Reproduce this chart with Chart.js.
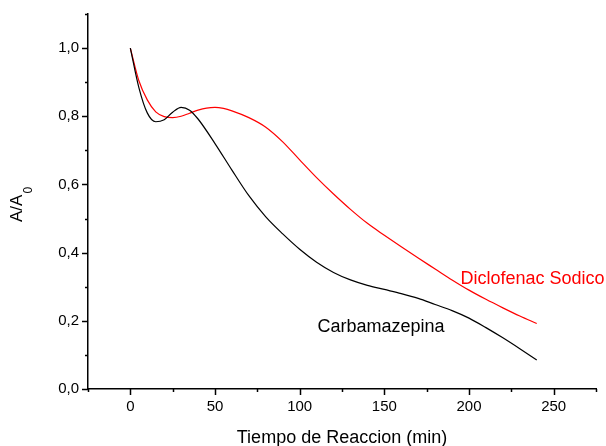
<!DOCTYPE html>
<html>
<head>
<meta charset="utf-8">
<script src="https://cdn.jsdelivr.net/npm/chart.js@4.4.1/dist/chart.umd.min.js"></script>
<style>
  html, body { margin: 0; padding: 0; background: #fff; }
  #wrap { width: 606px; height: 446px; }
</style>
</head>
<body>
<div id="wrap"><canvas id="c" width="606" height="446"></canvas></div>
<script>
// ---- Data ----
const carbTime = [0, 5, 10, 15, 20, 25, 30, 35, 40, 50, 60, 70, 80, 90, 100, 110, 120, 130, 140, 150, 160, 170, 180, 190, 200, 210, 220, 230, 240];
const carbValues = [1.0, 0.885, 0.81, 0.784, 0.79, 0.812, 0.826, 0.818, 0.792, 0.72, 0.642, 0.567, 0.505, 0.455, 0.41, 0.372, 0.342, 0.32, 0.304, 0.292, 0.28, 0.266, 0.248, 0.23, 0.208, 0.18, 0.15, 0.118, 0.085];
const diclTime = [0, 5, 10, 15, 20, 25, 30, 35, 40, 45, 50, 55, 60, 70, 80, 90, 100, 110, 120, 130, 140, 150, 160, 170, 180, 190, 200, 210, 220, 230, 240];
const diclValues = [1.0, 0.905, 0.848, 0.813, 0.799, 0.796, 0.8, 0.809, 0.818, 0.824, 0.826, 0.823, 0.816, 0.796, 0.768, 0.725, 0.672, 0.62, 0.572, 0.527, 0.486, 0.451, 0.417, 0.384, 0.352, 0.32, 0.29, 0.263, 0.238, 0.214, 0.192];
const seriesNames = ['Carbamazepina', 'Diclofenac Sodico'];
const xTitle = 'Tiempo de Reaccion (min)';
const yTitleMain = 'A/A';
const yTitleSub = '0';

const toPts = (xs, ys) => xs.map((x, i) => ({ x: x, y: ys[i] }));
const FONT = '"Liberation Sans", Arial, sans-serif';

const overlay = {
  id: 'overlay',
  afterDraw(chart) {
    const ctx = chart.ctx;
    const xs = chart.scales.x, ys = chart.scales.y;
    const area = chart.chartArea;
    ctx.save();
    ctx.strokeStyle = '#000';
    ctx.lineWidth = 1.5;
    xs.ticks.forEach(t => {
      const px = Math.round(xs.getPixelForValue(t.value)) + 0.5;
      const major = Math.round(t.value) % 50 === 0;
      ctx.beginPath();
      ctx.moveTo(px, area.bottom);
      ctx.lineTo(px, area.bottom + (major ? 6 : 3));
      ctx.stroke();
    });
    ys.ticks.forEach(t => {
      const py = Math.round(ys.getPixelForValue(t.value)) + 0.5;
      const major = Math.round(t.value * 10) % 2 === 0;
      ctx.beginPath();
      ctx.moveTo(area.left, py);
      ctx.lineTo(area.left - (major ? 6 : 3), py);
      ctx.stroke();
    });
    ctx.fillStyle = '#000';
    ctx.font = '18px ' + FONT;
    ctx.textAlign = 'center';
    ctx.textBaseline = 'alphabetic';
    ctx.fillText(xTitle, (area.left + area.right) / 2, 443);
    ctx.save();
    ctx.translate(22, 222);
    ctx.rotate(-Math.PI / 2);
    ctx.textAlign = 'left';
    ctx.font = '17px ' + FONT;
    const w1 = ctx.measureText(yTitleMain).width;
    ctx.fillText(yTitleMain, 0, 0);
    ctx.font = '12px ' + FONT;
    ctx.fillText(yTitleSub, w1 + 1, 10);
    ctx.restore();
    ctx.font = '18px ' + FONT;
    ctx.textAlign = 'left';
    ctx.fillStyle = '#000';
    ctx.fillText(seriesNames[0], xs.getPixelForValue(110.5), ys.getPixelForValue(0.168));
    ctx.fillStyle = '#ff0000';
    ctx.fillText(seriesNames[1], xs.getPixelForValue(195), ys.getPixelForValue(0.307));
    ctx.restore();
  }
};

new Chart(document.getElementById('c'), {
  type: 'scatter',
  data: {
    datasets: [
      { label: seriesNames[0], data: toPts(carbTime, carbValues), showLine: true, borderColor: '#000', borderWidth: 1.2, pointRadius: 0, cubicInterpolationMode: 'monotone', fill: false },
      { label: seriesNames[1], data: toPts(diclTime, diclValues), showLine: true, borderColor: '#ff0000', borderWidth: 1.2, pointRadius: 0, cubicInterpolationMode: 'monotone', fill: false }
    ]
  },
  options: {
    responsive: false,
    animation: false,
    layout: { padding: { top: 14, right: 10, left: 0, bottom: 0 } },
    plugins: { legend: { display: false }, tooltip: { enabled: false } },
    scales: {
      x: {
        type: 'linear', min: -25, max: 275,
        grid: { display: false, drawTicks: false },
        border: { display: true, color: '#000', width: 1.5 },
        ticks: {
          stepSize: 25, padding: 9, color: '#000', maxRotation: 0, autoSkip: false,
          font: { family: FONT, size: 15 },
          callback: v => (Math.round(v) % 50 === 0 ? String(Math.round(v)) : '')
        },
        afterFit: s => { s.height = 57; s.paddingLeft = 0; s.paddingRight = 0; }
      },
      y: {
        type: 'linear', min: 0, max: 1.1,
        grid: { display: false, drawTicks: false },
        border: { display: true, color: '#000', width: 1.5 },
        ticks: {
          stepSize: 0.1, padding: 9, color: '#000', autoSkip: false,
          font: { family: FONT, size: 15 },
          callback: v => (Math.round(v * 10) % 2 === 0 ? v.toFixed(1).replace('.', ',') : '')
        },
        afterFit: s => { s.width = 88; s.paddingTop = 0; s.paddingBottom = 0; }
      }
    }
  },
  plugins: [overlay]
});
</script>
</body>
</html>
